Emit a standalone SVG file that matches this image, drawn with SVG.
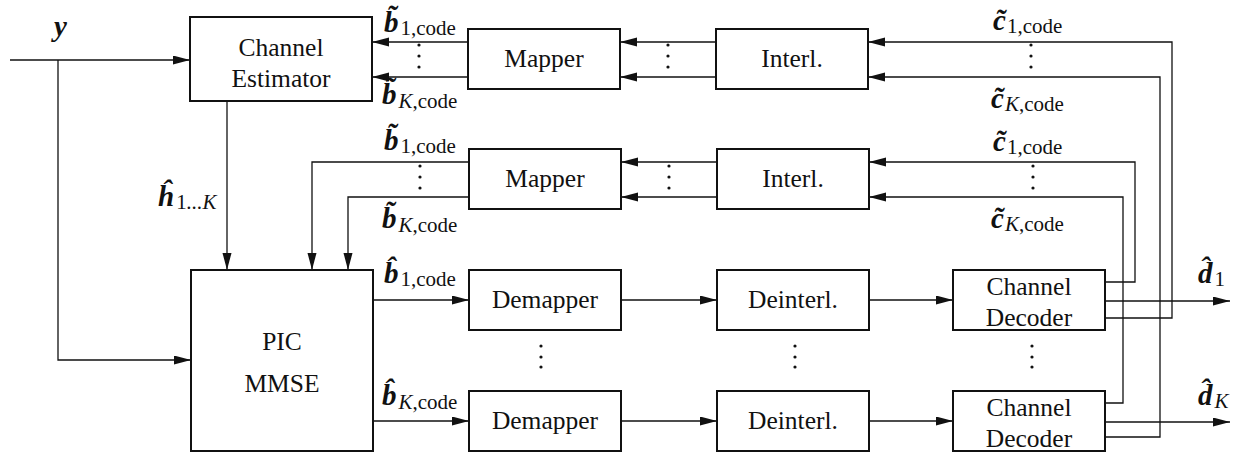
<svg xmlns="http://www.w3.org/2000/svg" width="1239" height="458" viewBox="0 0 1239 458">
  <style>
    .box { fill: #fff; stroke: #111; stroke-width: 2; }
    .lbl { font-family: "Liberation Serif", "DejaVu Serif", serif; font-size: 25.5px; fill: #111; text-anchor: middle; }
    .wire { fill: none; stroke: #111; stroke-width: 1.3; }
    .arr { marker-end: url(#head); }
    .v { font-family: "Liberation Serif", "DejaVu Serif", serif; font-size: 29px; font-weight: bold; font-style: italic; fill: #111; }
    .sub { font-size: 21px; font-weight: normal; font-style: normal; }
    .it { font-style: italic; }
    .dot { fill: #111; }
  </style>
  <defs>
    <marker id="head" markerUnits="userSpaceOnUse" markerWidth="18" markerHeight="10" refX="17" refY="4.5" orient="auto">
      <path d="M0,0 L17,4.5 L0,9 z" fill="#111"/>
    </marker>
  </defs>

  <!-- signal lines -->
  <g id="connectors">
    <!-- received signal y -->
    <path class="wire arr" d="M10,60 H190"/>
    <path class="wire arr" d="M58,60 V360 H191"/>
    <!-- estimator feedback chain -->
    <path class="wire arr" d="M468,42 H372"/>
    <path class="wire arr" d="M468,77 H372"/>
    <path class="wire arr" d="M716,42 H620"/>
    <path class="wire arr" d="M716,77 H620"/>
    <path class="wire arr" d="M1105,318 H1172 V42 H868"/>
    <path class="wire arr" d="M1105,437 H1160 V77 H868"/>
    <!-- interference cancellation feedback chain -->
    <path class="wire arr" d="M717,162 H621"/>
    <path class="wire arr" d="M717,197 H621"/>
    <path class="wire arr" d="M1105,282 H1135 V162 H869"/>
    <path class="wire arr" d="M1105,403 H1123 V197 H869"/>
    <path class="wire arr" d="M469,162 H312 V270"/>
    <path class="wire arr" d="M469,197 H348 V270"/>
    <!-- channel estimate -->
    <path class="wire arr" d="M227,101 V270"/>
    <!-- forward chain -->
    <path class="wire arr" d="M373,300 H469"/>
    <path class="wire arr" d="M373,421 H469"/>
    <path class="wire arr" d="M621,300 H717"/>
    <path class="wire arr" d="M621,421 H717"/>
    <path class="wire arr" d="M869,300 H953"/>
    <path class="wire arr" d="M869,421 H953"/>
    <path class="wire arr" d="M1105,301 H1230"/>
    <path class="wire arr" d="M1105,422 H1230"/>
  </g>

  <!-- blocks -->
  <g id="channel-estimator">
    <rect class="box" x="190" y="17" width="182" height="84"/>
    <text class="lbl" x="281" y="56">Channel</text>
    <text class="lbl" x="281" y="87">Estimator</text>
  </g>
  <g id="mapper-1">
    <rect class="box" x="468" y="29" width="152" height="60"/>
    <text class="lbl" x="544" y="67">Mapper</text>
  </g>
  <g id="interleaver-1">
    <rect class="box" x="716" y="29" width="152" height="60"/>
    <text class="lbl" x="792" y="67">Interl.</text>
  </g>
  <g id="mapper-2">
    <rect class="box" x="469" y="149" width="152" height="60"/>
    <text class="lbl" x="545" y="187">Mapper</text>
  </g>
  <g id="interleaver-2">
    <rect class="box" x="717" y="149" width="152" height="60"/>
    <text class="lbl" x="793" y="187">Interl.</text>
  </g>
  <g id="pic-mmse">
    <rect class="box" x="191" y="270" width="182" height="181"/>
    <text class="lbl" x="282" y="350">PIC</text>
    <text class="lbl" x="282" y="392">MMSE</text>
  </g>
  <g id="demapper-1">
    <rect class="box" x="469" y="270" width="152" height="60"/>
    <text class="lbl" x="545" y="308">Demapper</text>
  </g>
  <g id="deinterleaver-1">
    <rect class="box" x="717" y="270" width="152" height="60"/>
    <text class="lbl" x="793" y="308">Deinterl.</text>
  </g>
  <g id="decoder-1">
    <rect class="box" x="953" y="270" width="152" height="60"/>
    <text class="lbl" x="1029" y="295">Channel</text>
    <text class="lbl" x="1029" y="326">Decoder</text>
  </g>
  <g id="demapper-k">
    <rect class="box" x="469" y="391" width="152" height="60"/>
    <text class="lbl" x="545" y="429">Demapper</text>
  </g>
  <g id="deinterleaver-k">
    <rect class="box" x="717" y="391" width="152" height="60"/>
    <text class="lbl" x="793" y="429">Deinterl.</text>
  </g>
  <g id="decoder-k">
    <rect class="box" x="953" y="391" width="152" height="60"/>
    <text class="lbl" x="1029" y="416">Channel</text>
    <text class="lbl" x="1029" y="447">Decoder</text>
  </g>

  <!-- vertical ellipses -->
  <g id="vdots">
    <circle class="dot" cx="419" cy="45" r="1.6"/><circle class="dot" cx="419" cy="56" r="1.6"/><circle class="dot" cx="419" cy="67" r="1.6"/>
    <circle class="dot" cx="668" cy="45" r="1.6"/><circle class="dot" cx="668" cy="56" r="1.6"/><circle class="dot" cx="668" cy="67" r="1.6"/>
    <circle class="dot" cx="1031" cy="45" r="1.6"/><circle class="dot" cx="1031" cy="56" r="1.6"/><circle class="dot" cx="1031" cy="67" r="1.6"/>
    <circle class="dot" cx="420" cy="166" r="1.6"/><circle class="dot" cx="420" cy="177" r="1.6"/><circle class="dot" cx="420" cy="188" r="1.6"/>
    <circle class="dot" cx="669" cy="166" r="1.6"/><circle class="dot" cx="669" cy="177" r="1.6"/><circle class="dot" cx="669" cy="188" r="1.6"/>
    <circle class="dot" cx="1033" cy="166" r="1.6"/><circle class="dot" cx="1033" cy="177" r="1.6"/><circle class="dot" cx="1033" cy="188" r="1.6"/>
    <circle class="dot" cx="541" cy="346" r="1.6"/><circle class="dot" cx="541" cy="357" r="1.6"/><circle class="dot" cx="541" cy="367" r="1.6"/>
    <circle class="dot" cx="795" cy="346" r="1.6"/><circle class="dot" cx="795" cy="357" r="1.6"/><circle class="dot" cx="795" cy="367" r="1.6"/>
    <circle class="dot" cx="1032" cy="346" r="1.6"/><circle class="dot" cx="1032" cy="357" r="1.6"/><circle class="dot" cx="1032" cy="367" r="1.6"/>
  </g>

  <!-- signal labels -->
  <g id="labels">
    <text class="v" x="54" y="36">y</text>

    <text class="v" x="384" y="32">b&#x303;<tspan class="sub" dx="2" dy="3">1,code</tspan></text>
    <text class="v" x="382" y="104">b&#x303;<tspan class="sub" dx="2" dy="4"><tspan class="it">K</tspan>,code</tspan></text>
    <text class="v" x="993" y="30">c&#x303;<tspan class="sub" dx="1" dy="3">1,code</tspan></text>
    <text class="v" x="991" y="108">c&#x303;<tspan class="sub" dx="1" dy="3"><tspan class="it">K</tspan>,code</tspan></text>

    <text class="v" x="384" y="150">b&#x303;<tspan class="sub" dx="2" dy="3">1,code</tspan></text>
    <text class="v" x="382" y="228">b&#x303;<tspan class="sub" dx="2" dy="4"><tspan class="it">K</tspan>,code</tspan></text>
    <text class="v" x="993" y="151">c&#x303;<tspan class="sub" dx="1" dy="3">1,code</tspan></text>
    <text class="v" x="991" y="228">c&#x303;<tspan class="sub" dx="1" dy="3"><tspan class="it">K</tspan>,code</tspan></text>

    <text class="v" x="158" y="206">h&#x302;<tspan class="sub" dx="2" dy="3">1<tspan class="it">...K</tspan></tspan></text>

    <text class="v" x="384" y="283">b&#x302;<tspan class="sub" dx="2" dy="3">1,code</tspan></text>
    <text class="v" x="382" y="405">b&#x302;<tspan class="sub" dx="2" dy="4"><tspan class="it">K</tspan>,code</tspan></text>

    <text class="v" x="1198" y="283">d&#x302;<tspan class="sub" dx="2" dy="3">1</tspan></text>
    <text class="v" x="1198" y="405">d&#x302;<tspan class="sub" dx="2" dy="3"><tspan class="it">K</tspan></tspan></text>
  </g>
</svg>
